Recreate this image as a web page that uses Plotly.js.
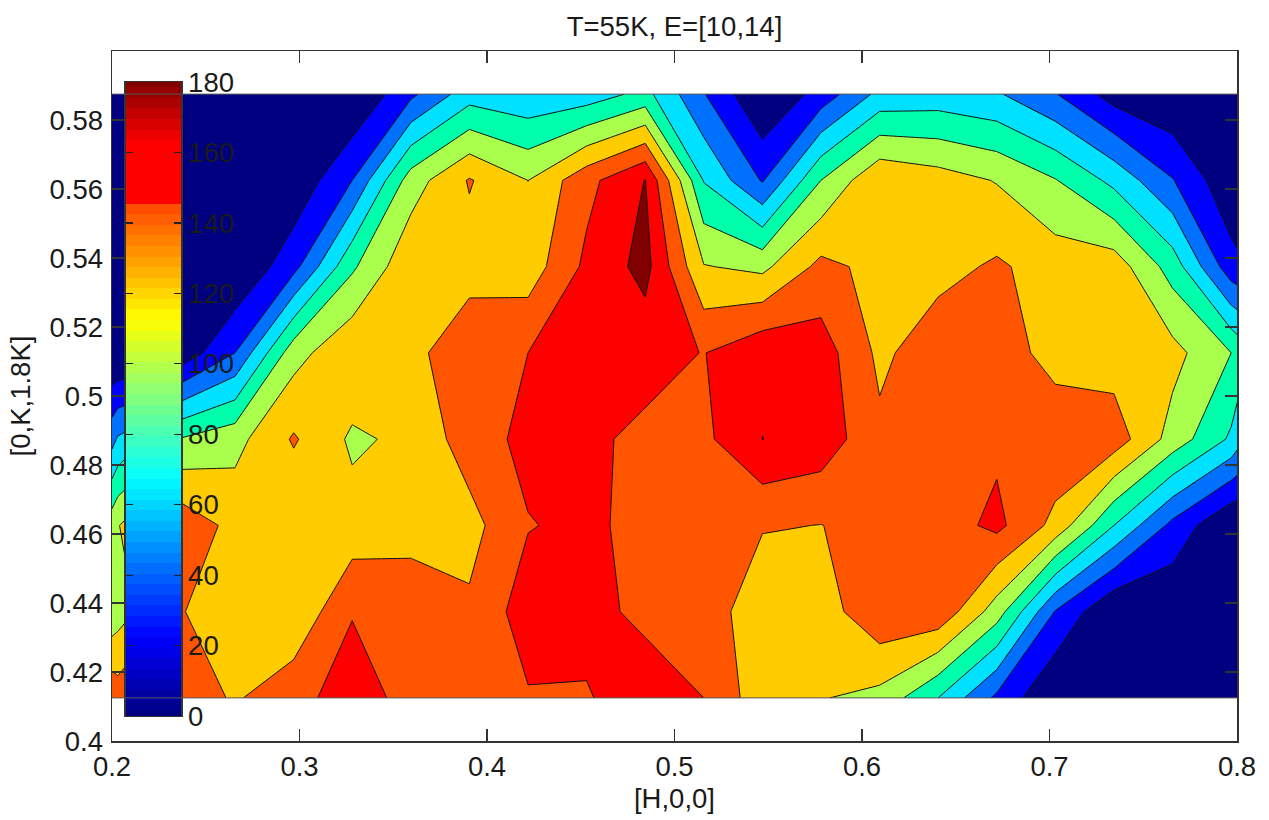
<!DOCTYPE html>
<html>
<head>
<meta charset="utf-8">
<script src="https://cdn.plot.ly/plotly-3.0.1.min.js"></script>
<style>html,body{margin:0;padding:0;background:#fff}#chart{width:1269px;height:820px}</style>
</head>
<body>
<div id="chart"></div>
<script>
const xH = [0.2,0.2031,0.2344,0.2656,0.2969,0.3281,0.3594,0.3906,0.4219,0.4531,0.4844,0.5156,0.5469,0.5781,0.6094,0.6406,0.6719,0.7031,0.7344,0.7656,0.7969,0.801];
const yK = [0.4125,0.4375,0.4625,0.4875,0.5125,0.5375,0.5625,0.5875];
const row0 = [140,135,137,124,138,152.6,138,132,142.4,142,158,144,115,109,102.5,72,32,0,0,0,0,0];
const row1 = [95,100,128,115,111,143,139,129,153,152,138,138,112,117,140,140,99,35,0,2,0,0];
const row2 = [100,107,141,120,109,115,118,119.7,143.1,148,138,133,127.5,125.7,132,134.5,148.6,120.6,72,31,0,0];
const row3 = [48,56,90,102,128,105,112,135,149,147.5,140,140,162.15,155,130,133,140,140,136,101,69,60];
const row4 = [0,0,3,36,101,123,120,140,144,155,151,143.4,158,153,122,137,137,118,117,114,90,84];
const row5 = [0,0,0,0,30,87,122,118,116,148,168,109,103.5,131,120.6,120,128.6,118,118,82,25,22];
const row6 = [0,0,0,0,4,36,99,127.5,107.9,138.5,162.5,71,34.5,90,124,116.5,107,91,67,37,4,0];
const row7 = [0,0,0,0,0,0,32,64,58,62,77.5,37,0,25,59,61.5,56,37,10,2,0,0];
const xTicks = [0.2,0.3,0.4,0.5,0.6,0.7,0.8];
const yTicks = [0.4,0.42,0.44,0.46,0.48,0.5,0.52,0.54,0.56,0.58];
const bandColors = ['#000080','#0000ff','#0070ff','#00e0ff','#00ffaa','#aaff4d','#ffcc00','#ff5500','#ff0000','#800000'];
const barLevels = [0,3,6,9,12,15,18,21,24,27,30,33,36,39,42,45,48,51,54,57,60,63,66,69,72,75,78,81,84,87,90,93,96,99,102,105,108,111,114,117,120,123,126,129,132,135,138,141,144,147,150,153,156,159,162,165,168,171,174,177,180];
const barScale = [[0,'#000080'],[0.125,'#0000ff'],[0.375,'#00ffff'],[0.625,'#ffff00'],[0.81,'#ff4400'],[0.815,'#ff0000'],[0.905,'#ff0000'],[1,'#800000']];
const FONT = 'Liberation Sans, Arial, sans-serif';
const fsize = 27.5;
const ink = '#1a1a1a';

const bandScale = [];
bandColors.forEach((c,i)=>{
  bandScale.push([i/bandColors.length,c]);
  bandScale.push([(i+1)/bandColors.length,c]);
});

const data = [
  {type:'contour', x:xH, y:yK, z:[row0,row1,row2,row3,row4,row5,row6,row7],
   zmin:0, zmax:180, colorscale:bandScale, showscale:false, hoverinfo:'skip',
   contours:{start:18,end:162,size:18,coloring:'fill',showlines:true},
   line:{color:'#111',width:1,smoothing:0}},
  {type:'heatmap', xaxis:'x2', yaxis:'y2', x:[0], y:barLevels, z:barLevels.map(v=>[v]),
   zmin:0, zmax:180, colorscale:barScale, showscale:false, hoverinfo:'skip'}
];

const axisBase = {showgrid:false, zeroline:false, showline:true, linecolor:'#333', linewidth:1.5,
  mirror:'ticks', ticks:'inside', ticklen:12, tickcolor:'#333', tickwidth:1.2, tickmode:'array',
  tickfont:{family:FONT,size:fsize,color:ink}};

const layout = {
  width:1269, height:820, paper_bgcolor:'#fff', plot_bgcolor:'#fff', showlegend:false,
  margin:{l:111.5,r:31.5,t:51,b:79},
  title:{text:'T=55K, E=[10,14]', font:{family:FONT,size:fsize,color:ink}, x:0.5, xanchor:'center', y:0.968, yanchor:'middle', xref:'paper', yref:'container'},
  xaxis:Object.assign({},axisBase,{range:[0.2,0.8],tickvals:xTicks,ticktext:xTicks.map(String),
    title:{text:'[H,0,0]',font:{family:FONT,size:fsize,color:ink},standoff:8}}),
  yaxis:Object.assign({},axisBase,{range:[0.4,0.6],tickvals:yTicks,ticktext:yTicks.map(String),ticklabelstandoff:2,
    title:{text:'[0,K,1.8K]',font:{family:FONT,size:fsize,color:ink},standoff:11}}),
  xaxis2:{domain:[0.012,0.0617],anchor:'y2',range:[-0.5,0.5],showticklabels:false,ticks:'',showgrid:false,zeroline:false,showline:true,linecolor:'#333',linewidth:1.2,mirror:true},
  yaxis2:{domain:[0.0362,0.955],anchor:'x2',side:'right',range:[0,180],tick0:0,dtick:20,showgrid:false,zeroline:false,showline:true,linecolor:'#333',linewidth:1.2,mirror:'ticks',ticks:'inside',ticklen:7,tickcolor:'#222',tickwidth:1.2,ticklabelstandoff:0,
    tickfont:{family:FONT,size:fsize,color:ink}},
  shapes:[
    {type:'line',xref:'x',yref:'y',x0:0.2,x1:0.8,y0:yK[0],y1:yK[0],line:{color:'#555',width:1}},
    {type:'line',xref:'x',yref:'y',x0:0.2,x1:0.8,y0:yK[7],y1:yK[7],line:{color:'#555',width:1}}
  ]
};
Plotly.newPlot('chart',data,layout,{displayModeBar:false,staticPlot:true});
</script>
</body>
</html>
